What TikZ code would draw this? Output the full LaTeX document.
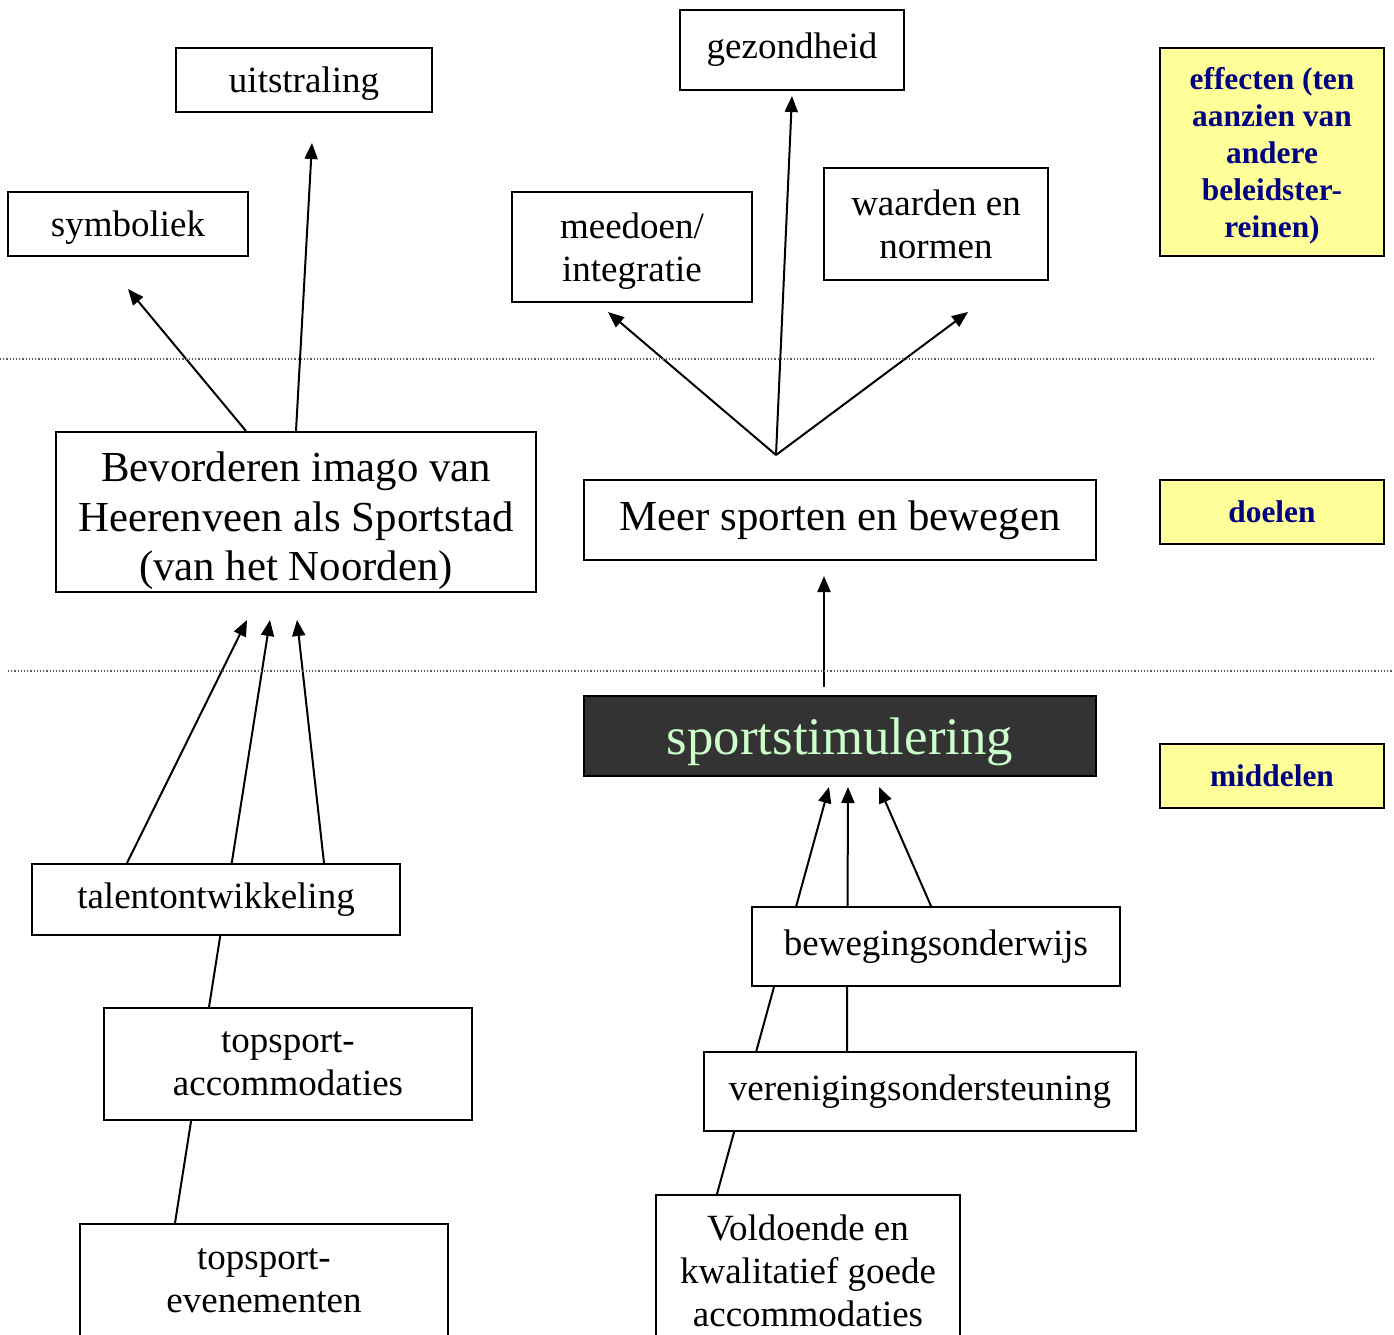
\documentclass[tikz,border=0pt]{standalone}
\usepackage{fontspec}
\setmainfont{Liberation Serif}
\usepackage{tikz}
\usetikzlibrary{arrows.meta}
\usetikzlibrary{backgrounds}
\definecolor{tagfill}{HTML}{FFFF99}
\definecolor{tagtext}{HTML}{000080}
\definecolor{darkfill}{HTML}{333333}
\definecolor{mint}{HTML}{CCFFCC}
\tikzset{
  box/.style={shape=rectangle, draw=black, line width=1pt, fill=white, inner sep=0pt, align=center,
    font=\fontsize{18.5}{21.5}\selectfont},
  bigbox/.style={box, font=\fontsize{21.4}{24.8}\selectfont},
  tag/.style={shape=rectangle, draw=black, line width=1pt, fill=tagfill, text=tagtext, inner sep=0pt,
    align=center, minimum width=112pt, font=\fontsize{15.7}{18.5}\selectfont\bfseries},
  link/.style={line width=1pt},
  arr/.style={link, -{Triangle[length=8pt,width=6.5pt]}},
  sep/.style={line width=0.6pt, gray!70!black, dash pattern=on 0.6pt off 1pt}
}

\begin{document}
\begin{tikzpicture}[x=0.5pt,y=-0.5pt]
\useasboundingbox (0,0) rectangle (1394,1335);
\clip (0,0) rectangle (1394,1335);

% effecten
\node [box, text depth=0pt, minimum width=128pt, minimum height=32pt] (uitstr) at (304,80) {uitstraling};
\node [box, minimum width=112pt, minimum height=40pt] (gezond) at (792,50) {gezondheid};
\node [box, text depth=0pt, minimum width=120pt, minimum height=32pt] (symb) at (128,224) {symboliek};
\node [box, text depth=0pt, minimum width=120pt, minimum height=55pt] (meedoen) at (632,247) {meedoen/\\integratie};
\node [box, minimum width=112pt, minimum height=56pt] (waarden) at (936,224) {waarden en\\normen};

% doelen
\node [bigbox, text height=68.6pt, text depth=0pt, minimum width=240pt, minimum height=80pt] (imago) at (296,512)
  {Bevorderen imago van\\Heerenveen als Sportstad\\(van het Noorden)};
\node [bigbox, minimum width=256pt, minimum height=40pt] (meer) at (840,520) {Meer sporten en bewegen};

% middelen
\node [box, text depth=0pt, fill=darkfill, text=mint, minimum width=256pt, minimum height=40pt,
  font=\fontsize{26.4}{30}\selectfont] (stim) at (840,736) {sportstimulering};
\node [box, minimum width=184pt, minimum height=35.5pt] (talent) at (216,899.5) {talentontwikkeling};
\node [box, minimum width=184pt, minimum height=56pt] (accom) at (288,1064) {topsport-\\accommodaties};
\node [box, minimum width=184pt, minimum height=57pt] (evenem) at (264,1281) {topsport-\\evenementen};
\node [box, minimum width=184pt, minimum height=39.5pt] (beweg) at (936,946.5) {bewegingsonderwijs};
\node [box, minimum width=216pt, minimum height=39.5pt] (vereni) at (920,1091.5) {verenigingsondersteuning};
\node [box, minimum width=152pt, minimum height=76pt] (voldoende) at (808,1271)
  {Voldoende en\\kwalitatief goede\\accommodaties};

% legenda
\node [tag, text depth=0pt, minimum height=104pt] (teffect) at (1272,152) {effecten (ten\\aanzien van\\andere\\beleidster-\\reinen)};
\node [tag, minimum height=32pt] (tdoel) at (1272,512) {doelen};
\node [tag, minimum height=32pt] (tmiddel) at (1272,776) {middelen};

% scheidingslijnen
\draw [sep] (0,359) -- (1374,359);
\draw [sep] (8,671) -- (1394,671);

\coordinate (hub) at (776,455);

\begin{scope}[on background layer]
\draw [arr] (imago.north west) ++(191,0) -- (128,289);
\draw [arr] (imago.north) -- (312,143);
\draw [link] (meer.north) ++(-64,-25) -- (hub);
\draw [arr] (hub) -- (608,312);
\draw [arr] (hub) -- (792,96);
\draw [arr] (hub) -- (968,312);
\draw [arr] (stim.north) ++(-16,-8) -- (824,576);
\draw [arr] (talent.north west) ++(96,0) -- (247,620);
\draw [arr] (evenem.north west) ++(96,0) -- (270,620);
\draw [arr] (talent.north west) ++(293,0) -- (297,620);
\draw [arr] (voldoende.north west) ++(62,0) -- (829,787);
\draw [arr] (vereni.north west) ++(144,0) -- (848,787);
\draw [arr] (beweg.north west) ++(180,0) -- (879,787);
\end{scope}
\end{tikzpicture}
\end{document}
